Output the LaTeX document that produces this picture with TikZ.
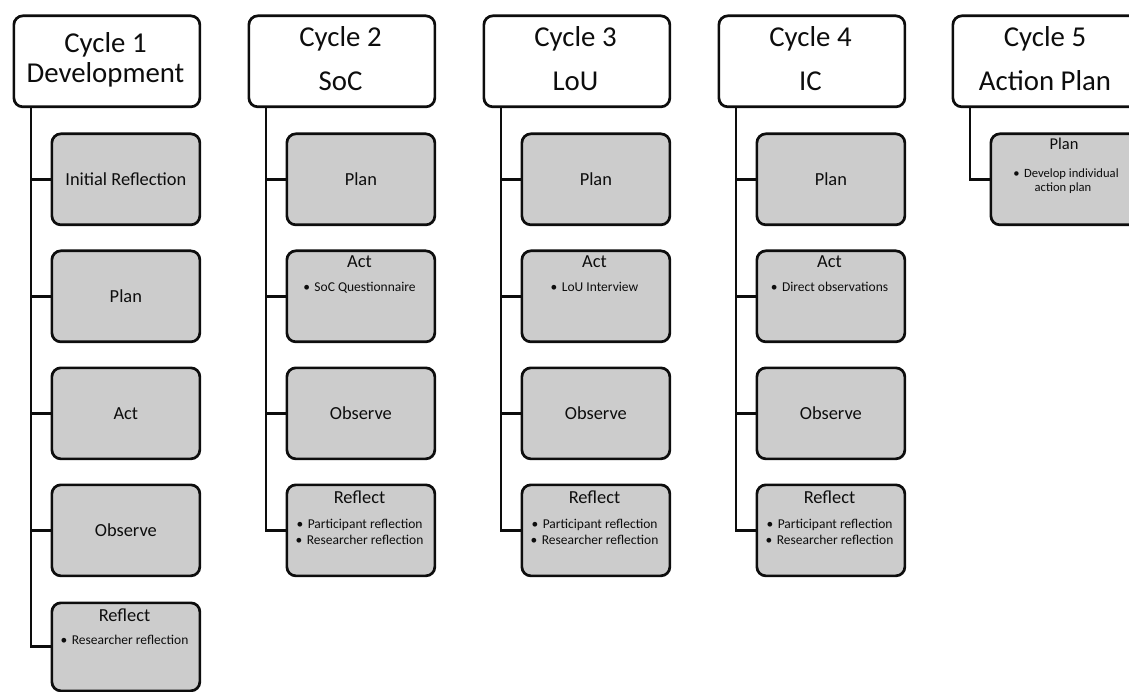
\documentclass[tikz,border=0pt]{standalone}
\usepackage{fontspec}
\setmainfont{Carlito}
\definecolor{boxgray}{HTML}{CCCCCC}
\definecolor{ink}{HTML}{0D0D0D}

\begin{document}
\begin{tikzpicture}[x=1pt,y=-1pt,
  cyclebox/.style={draw=ink, line width=2.7pt, rounded corners=9pt, fill=white,
    minimum width=186pt, minimum height=91pt, inner sep=0pt, anchor=north west},
  stagebox/.style={draw=ink, line width=2.7pt, rounded corners=9pt, fill=boxgray,
    minimum width=148pt, minimum height=91pt, inner sep=0pt, anchor=north west,
    font=\fontsize{18.4}{20}\selectfont, text height=12pt, text depth=0pt, text=ink},
  headtext/.style={anchor=base, inner sep=0pt, font=\fontsize{28.8}{30}\selectfont, text=ink},
  titletext/.style={anchor=base, inner sep=0pt, font=\fontsize{18.4}{20}\selectfont, text=ink},
  itemtext/.style={anchor=base, inner sep=0pt, font=\fontsize{13.5}{15}\selectfont, text=ink},
  smalltitle/.style={anchor=base, inner sep=0pt, font=\fontsize{16.5}{18}\selectfont, text=ink},
  smallitem/.style={anchor=base, inner sep=0pt, font=\fontsize{12.6}{14}\selectfont, text=ink},
  link/.style={draw=ink, line width=2.8pt, line join=miter}]

\useasboundingbox (0,0) rectangle (1129,692);
\clip (0,0) rectangle (1129,692);
\newcommand{\bul}{\textbullet\hspace{4.5pt}}

% ---------------- Cycle 1: Development ----------------
\node[cyclebox] (h1) at (12.5,14.5) {};
\node[headtext] (h1a) at (105.5,53) {Cycle 1};
\node[headtext] (h1b) at (105.5,83) {Development};
\node[stagebox] (c1a) at (50.5,132.5) {Initial Reflection};
\node[stagebox] (c1b) at (50.5,249.5) {Plan};
\node[stagebox] (c1c) at (50.5,366.5) {Act};
\node[stagebox] (c1d) at (50.5,483.5) {Observe};
\node[stagebox, minimum height=88pt] (c1e) at (50.5,601.5) {};
\node[titletext] (c1et) at (124.5,621) {Reflect};
\node[itemtext] (c1e1) at (124.5,644) {\bul Researcher reflection};
\draw[link] ([xshift=18.5pt]h1.south west) |- (c1e.west);
\foreach \b in {c1a,c1b,c1c,c1d}
  \draw[link] (\b.west -| h1.west) ++(18.5pt,0) -- (\b.west);

% ---------------- Cycle 2: SoC ----------------
\node[cyclebox] (h2) at (247.5,14.5) {};
\node[headtext] (h2a) at (340.5,47) {Cycle 2};
\node[headtext] (h2b) at (340.5,91) {SoC};
\node[stagebox] (c2a) at (285.5,132.5) {Plan};
\node[stagebox] (c2b) at (285.5,249.5) {};
\node[titletext] (c2bt) at (359.5,268) {Act};
\node[itemtext] (c2b1) at (359.5,292) {\bul SoC Questionnaire};
\node[stagebox] (c2c) at (285.5,366.5) {Observe};
\node[stagebox] (c2d) at (285.5,483.5) {};
\node[titletext] (c2dt) at (359.5,503) {Reflect};
\node[itemtext] (c2d1) at (359.5,528) {\bul Participant reflection};
\node[itemtext] (c2d2) at (359.5,544) {\bul Researcher reflection};
\draw[link] ([xshift=18.5pt]h2.south west) |- (c2d.west);
\foreach \b in {c2a,c2b,c2c}
  \draw[link] (\b.west -| h2.west) ++(18.5pt,0) -- (\b.west);

% ---------------- Cycle 3: LoU ----------------
\node[cyclebox] (h3) at (482.5,14.5) {};
\node[headtext] (h3a) at (575.5,47) {Cycle 3};
\node[headtext] (h3b) at (575.5,91) {LoU};
\node[stagebox] (c3a) at (520.5,132.5) {Plan};
\node[stagebox] (c3b) at (520.5,249.5) {};
\node[titletext] (c3bt) at (594.5,268) {Act};
\node[itemtext] (c3b1) at (594.5,292) {\bul LoU Interview};
\node[stagebox] (c3c) at (520.5,366.5) {Observe};
\node[stagebox] (c3d) at (520.5,483.5) {};
\node[titletext] (c3dt) at (594.5,503) {Reflect};
\node[itemtext] (c3d1) at (594.5,528) {\bul Participant reflection};
\node[itemtext] (c3d2) at (594.5,544) {\bul Researcher reflection};
\draw[link] ([xshift=18.5pt]h3.south west) |- (c3d.west);
\foreach \b in {c3a,c3b,c3c}
  \draw[link] (\b.west -| h3.west) ++(18.5pt,0) -- (\b.west);

% ---------------- Cycle 4: IC ----------------
\node[cyclebox] (h4) at (717.5,14.5) {};
\node[headtext] (h4a) at (810.5,47) {Cycle 4};
\node[headtext] (h4b) at (810.5,91) {IC};
\node[stagebox] (c4a) at (755.5,132.5) {Plan};
\node[stagebox] (c4b) at (755.5,249.5) {};
\node[titletext] (c4bt) at (829.5,268) {Act};
\node[itemtext] (c4b1) at (829.5,292) {\bul Direct observations};
\node[stagebox] (c4c) at (755.5,366.5) {Observe};
\node[stagebox] (c4d) at (755.5,483.5) {};
\node[titletext] (c4dt) at (829.5,503) {Reflect};
\node[itemtext] (c4d1) at (829.5,528) {\bul Participant reflection};
\node[itemtext] (c4d2) at (829.5,544) {\bul Researcher reflection};
\draw[link] ([xshift=18.5pt]h4.south west) |- (c4d.west);
\foreach \b in {c4a,c4b,c4c}
  \draw[link] (\b.west -| h4.west) ++(18.5pt,0) -- (\b.west);

% ---------------- Cycle 5: Action Plan ----------------
\node[cyclebox] (h5) at (951.5,14.5) {};
\node[headtext] (h5a) at (1045,47) {Cycle 5};
\node[headtext] (h5b) at (1045,91) {Action Plan};
\node[stagebox] (c5a) at (989.5,132.5) {};
\node[smalltitle] (c5at) at (1064,150) {Plan};
\node[smallitem] (c5a1) at (1066,177.5) {\bul Develop individual};
\node[smallitem] (c5a2) at (1063,191.5) {action plan};
\draw[link] ([xshift=18.5pt]h5.south west) |- (c5a.west);

\end{tikzpicture}
\end{document}
